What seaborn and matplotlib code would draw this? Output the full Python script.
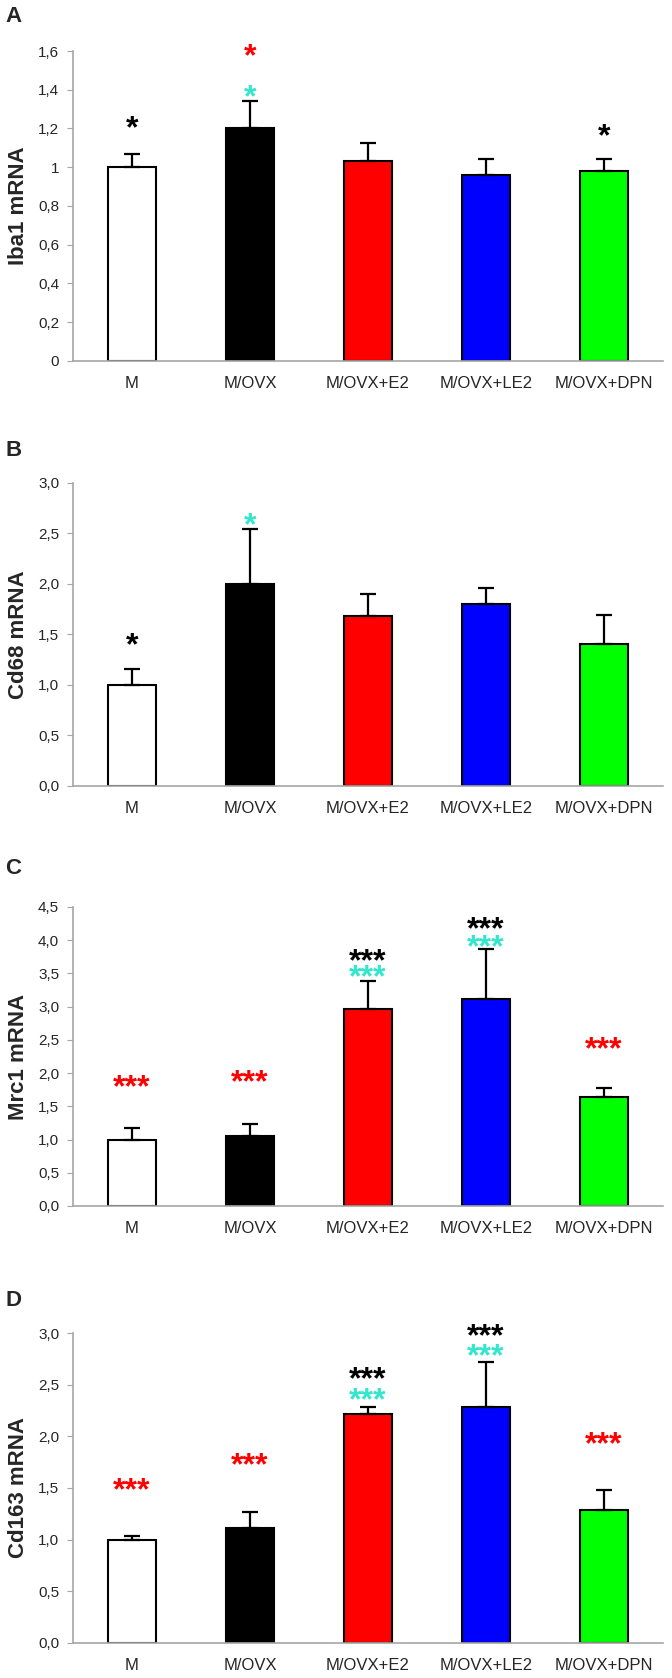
import matplotlib
matplotlib.use("Agg")
import matplotlib.pyplot as plt
from matplotlib.ticker import FuncFormatter
import seaborn as sns
import numpy as np

# 그룹 / 색상
groups = ["M", "M/OVX", "M/OVX+E2", "M/OVX+LE2", "M/OVX+DPN"]
bar_colors = ["#ffffff", "#000000", "#ff0000", "#0000ff", "#00ff00"]

# 유전자별 평균 / 오차
iba1_mean = [1.00, 1.20, 1.03, 0.96, 0.98]
iba1_err = [0.07, 0.14, 0.095, 0.085, 0.065]
cd68_mean = [1.00, 2.00, 1.68, 1.80, 1.41]
cd68_err = [0.16, 0.54, 0.22, 0.16, 0.28]
mrc1_mean = [1.00, 1.06, 2.97, 3.12, 1.64]
mrc1_err = [0.18, 0.18, 0.41, 0.75, 0.14]
cd163_mean = [1.00, 1.11, 2.22, 2.28, 1.29]
cd163_err = [0.035, 0.16, 0.06, 0.44, 0.19]

# 유의성 표시 (그룹, y, 텍스트, 색)
RED, CYAN, BLACK = "#ff0000", "#33e6cc", "#000000"
iba1_stars = [("M", 1.25, "*", BLACK), ("M/OVX", 1.62, "*", RED),
              ("M/OVX", 1.41, "*", CYAN), ("M/OVX+DPN", 1.21, "*", BLACK)]
cd68_stars = [("M", 1.49, "*", BLACK), ("M/OVX", 2.68, "*", CYAN)]
mrc1_stars = [("M", 1.93, "***", RED), ("M/OVX", 2.01, "***", RED),
              ("M/OVX+E2", 3.83, "***", BLACK), ("M/OVX+E2", 3.59, "***", CYAN),
              ("M/OVX+LE2", 4.31, "***", BLACK), ("M/OVX+LE2", 4.04, "***", CYAN),
              ("M/OVX+DPN", 2.50, "***", RED)]
cd163_stars = [("M", 1.57, "***", RED), ("M/OVX", 1.81, "***", RED),
               ("M/OVX+E2", 2.64, "***", BLACK), ("M/OVX+E2", 2.44, "***", CYAN),
               ("M/OVX+LE2", 3.06, "***", BLACK), ("M/OVX+LE2", 2.87, "***", CYAN),
               ("M/OVX+DPN", 2.02, "***", RED)]

panels = [
    ("A", "Iba1 mRNA", iba1_mean, iba1_err, iba1_stars, 1.6, 0.2, "{:g}"),
    ("B", "Cd68 mRNA", cd68_mean, cd68_err, cd68_stars, 3.0, 0.5, "{:.1f}"),
    ("C", "Mrc1 mRNA", mrc1_mean, mrc1_err, mrc1_stars, 4.5, 0.5, "{:.1f}"),
    ("D", "Cd163 mRNA", cd163_mean, cd163_err, cd163_stars, 3.0, 0.5, "{:.1f}"),
]

# 축 위치 (figure 비율)
axes_rects = [
    [0.1086, 0.7849, 0.878, 0.1847],
    [0.1086, 0.5316, 0.878, 0.1806],
    [0.1086, 0.2813, 0.878, 0.1782],
    [0.1086, 0.0209, 0.878, 0.1847],
]
letter_y = [0.9899, 0.7318, 0.4827, 0.2247]

sns.set_style("white")
plt.rcParams["font.family"] = ["Liberation Sans", "DejaVu Sans"]
GRAY = "#a6a6a6"
STAR_FS = 23

fig = plt.figure(figsize=(6.72, 16.78), dpi=100)

for (letter, ylabel, mean, err, stars, ymax, step, fmt), rect, ly in zip(panels, axes_rects, letter_y):
    ax = fig.add_axes(rect)
    sns.barplot(x=groups, y=mean, hue=groups, palette=bar_colors, legend=False,
                width=0.41, edgecolor="black", linewidth=1.5, saturation=1, ax=ax)
    pos = np.arange(len(groups))
    ax.errorbar(pos, mean, yerr=[np.zeros(len(err)), err], fmt="none",
                ecolor="black", elinewidth=1.6, capsize=5.5, capthick=1.6, zorder=3)

    # 유의성 별표
    for g, y, txt, col in stars:
        ax.annotate(txt, xy=(groups.index(g), y), xytext=(0, -0.58 * STAR_FS),
                    textcoords="offset points", ha="center", va="baseline",
                    fontsize=STAR_FS, fontweight="bold", color=col,
                    annotation_clip=False)

    ax.set_xlim(-0.5, len(groups) - 0.5)
    ax.set_ylim(0, ymax)
    ax.set_yticks(np.arange(0, ymax + step / 2, step))
    ax.yaxis.set_major_formatter(FuncFormatter(lambda v, p, f=fmt: f.format(v).replace(".", ",")))
    ax.set_xticks(pos)
    ax.set_xticklabels(groups)
    ax.set_xticks(np.arange(-0.5, len(groups), 1), minor=True)

    ax.tick_params(axis="x", which="major", length=0, pad=11, labelsize=12)
    ax.tick_params(axis="x", which="minor", length=5, color=GRAY, direction="out")
    ax.tick_params(axis="y", length=4, color=GRAY, direction="out", left=True, labelsize=11, pad=6)

    for s in ["top", "right"]:
        ax.spines[s].set_visible(False)
    for s in ["left", "bottom"]:
        ax.spines[s].set_color(GRAY)
        ax.spines[s].set_linewidth(1.2)

    ax.set_ylabel(ylabel, fontsize=16, fontweight="bold")
    ax.yaxis.set_label_coords(-0.075, 0.5)

    fig.text(0.008, ly, letter, fontsize=16, fontweight="bold", ha="left", va="center")

plt.savefig("out.png", dpi=100)
